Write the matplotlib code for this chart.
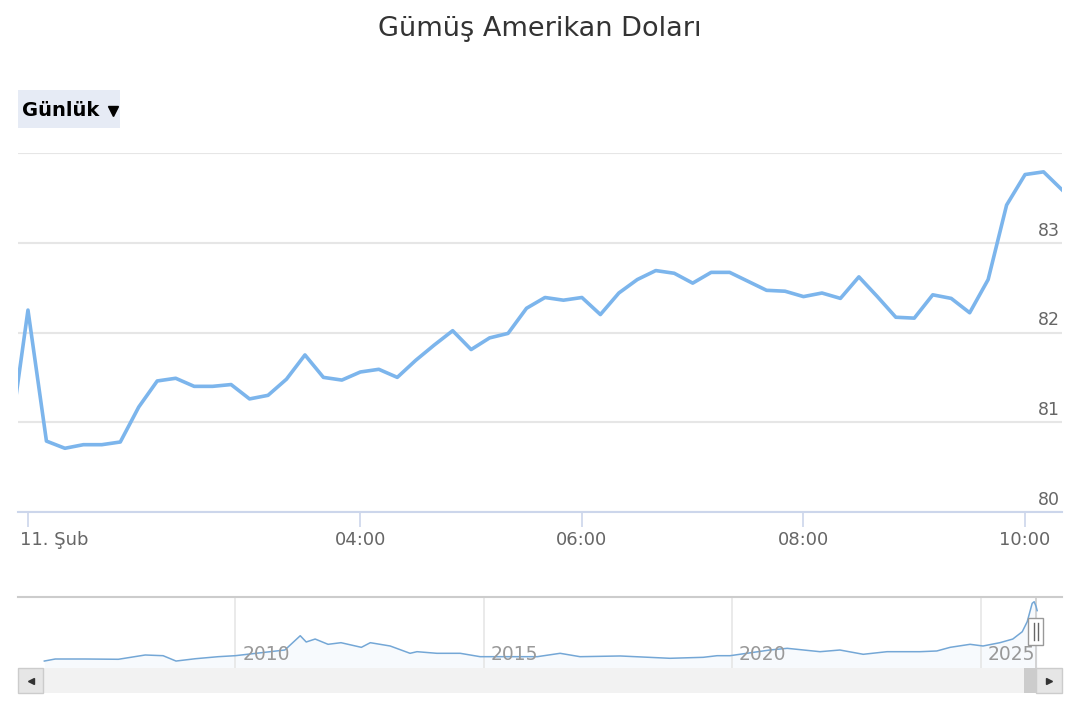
import matplotlib.pyplot as plt
from matplotlib.patches import Rectangle
from matplotlib.lines import Line2D
from matplotlib.transforms import ScaledTranslation

# intraday silver price, 10 minute steps starting 00:50 (minutes after midnight)
minutes = list(range(50, 630, 10))
silver = [80.77,
          82.25, 80.79, 80.71, 80.75, 80.75, 80.78, 81.17, 81.46, 81.49, 81.40,
          81.40, 81.42, 81.26, 81.30, 81.48, 81.75, 81.50, 81.47, 81.56, 81.59,
          81.50, 81.69, 81.86, 82.02, 81.81, 81.94, 81.99, 82.27, 82.39, 82.36,
          82.39, 82.20, 82.44, 82.59, 82.69, 82.66, 82.55, 82.67, 82.67, 82.57,
          82.47, 82.46, 82.40, 82.44, 82.38, 82.62, 82.40, 82.17, 82.16, 82.42,
          82.38, 82.22, 82.59, 83.42, 83.76, 83.79, 83.59]

tick_minutes = [60, 240, 360, 480, 600]
tick_labels = ["11. Şub", "04:00", "06:00", "08:00", "10:00"]
y_labels = [80, 81, 82, 83]

# long term history for the navigator
nav_years = [2006.16, 2006.38, 2006.98, 2007.65, 2008.19, 2008.55, 2008.81, 2009.20,
             2009.66, 2010.00, 2011.00, 2011.31, 2011.43, 2011.61, 2011.87, 2012.13,
             2012.54, 2012.72, 2013.12, 2013.52, 2013.66, 2014.06, 2014.53, 2014.93,
             2016.08, 2016.54, 2016.94, 2017.75, 2018.75, 2019.42, 2019.70, 2019.96,
             2020.76, 2021.11, 2021.77, 2022.17, 2022.64, 2023.12, 2023.78, 2024.12,
             2024.39, 2024.79, 2025.05, 2025.39, 2025.65, 2025.84, 2025.94, 2026.04,
             2026.08, 2026.12, 2026.14]
nav_prices = [11.9, 14.8, 14.8, 14.4, 20.5, 19.5, 11.9, 15.2,
              18.1, 19.5, 27.6, 47.9, 39.0, 43.2, 35.7, 38.0,
              31.4, 38.0, 33.3, 22.9, 25.2, 22.9, 22.9, 18.1,
              18.1, 22.9, 18.1, 19.1, 15.8, 17.2, 19.5, 19.5,
              27.6, 30.0, 25.2, 27.6, 21.5, 25.2, 25.2, 26.2,
              31.4, 35.7, 33.3, 38.0, 43.2, 53.6, 67.9, 94.0,
              96.3, 89.2, 83.6]
nav_ticks = [2010, 2015, 2020, 2025]

W, H = 1080, 720


def fx(px):
    return px / W


def fy(py):
    return 1 - py / H


fig = plt.figure(figsize=(10.8, 7.2), dpi=100)

fig.text(0.5, fy(29), "Gümüş Amerikan Doları", ha="center", va="center",
         fontsize=19.5, color="#333333")

# range selector button
fig.add_artist(Rectangle((fx(18), fy(128)), fx(120) - fx(18), fy(90) - fy(128),
                         transform=fig.transFigure, fc="#e6ebf5", ec="none"))
fig.text(fx(22), fy(110), "Günlük", ha="left", va="center", fontsize=14,
         fontweight="bold", color="#000000")
fig.add_artist(Line2D([fx(113)], [fy(111)], marker="v", markersize=6.5,
                      color="#000000", transform=fig.transFigure))

# main chart
ax = fig.add_axes([fx(18), fy(512), fx(1062) - fx(18), fy(153) - fy(512)])
ax.plot(minutes, silver, color="#7cb5ec", lw=2.6)
ax.set_xlim(54.6, 620)
ax.set_ylim(80, 84)
ax.set_yticks([80, 81, 82, 83, 84])
ax.yaxis.grid(True, color="#e6e6e6", lw=1.5)
ax.tick_params(axis="y", length=0, labelleft=False)
for v in y_labels:
    ax.text(1.0 - 2 / 1044, v + 3 / 89.7, str(v), transform=ax.get_yaxis_transform(),
            ha="right", va="bottom", fontsize=12.5, color="#666666")

ax.set_xticks(tick_minutes)
ax.set_xticklabels(tick_labels)
ax.tick_params(axis="x", length=10.8, width=1.2, color="#ccd6eb",
               labelsize=13, labelcolor="#666666", pad=3)
first = ax.get_xticklabels()[0]
first.set_ha("left")
first.set_transform(first.get_transform() + ScaledTranslation(-0.08, 0, fig.dpi_scale_trans))

for s in ["top", "left", "right"]:
    ax.spines[s].set_visible(False)
ax.spines["bottom"].set_color("#ccd6eb")
ax.spines["bottom"].set_linewidth(1.5)

# navigator
nav = fig.add_axes([fx(18), fy(668), fx(1062) - fx(18), fy(597) - fy(668)])
nav.plot(nav_years, nav_prices, color="#74a7d6", lw=1.1, zorder=3)
nav.fill_between(nav_years, nav_prices, 2, color="#7cb5ec", alpha=0.06, lw=0)
nav.set_xlim(2005.63, 2026.64)
nav.set_ylim(2, 103)
for yr in nav_ticks:
    nav.axvline(yr, color="#e6e6e6", lw=1.2, zorder=1)
    nav.text(yr + 7 / 49.7, 0.06, str(yr), transform=nav.get_xaxis_transform(),
             ha="left", va="bottom", fontsize=13.5, color="#999999", zorder=4)
nav.axvline(2026.12, color="#cccccc", lw=1.2, zorder=2)
nav.set_xticks([])
nav.set_yticks([])
for s in ["bottom", "left", "right"]:
    nav.spines[s].set_visible(False)
nav.spines["top"].set_color("#cccccc")
nav.spines["top"].set_linewidth(1.5)

# navigator handle
fig.add_artist(Rectangle((fx(1028), fy(645)), fx(1043) - fx(1028), fy(618) - fy(645),
                         transform=fig.transFigure, fc="white", ec="#999999", lw=1, zorder=5))
for hx in [1033.5, 1037.5]:
    fig.add_artist(Line2D([fx(hx), fx(hx)], [fy(640), fy(623)], color="#666666",
                          lw=1, transform=fig.transFigure, zorder=6))

# scrollbar
fig.add_artist(Rectangle((fx(18), fy(693)), fx(1062) - fx(18), fy(668) - fy(693),
                         transform=fig.transFigure, fc="#f2f2f2", ec="none"))
fig.add_artist(Rectangle((fx(1024), fy(693)), fx(1036) - fx(1024), fy(668) - fy(693),
                         transform=fig.transFigure, fc="#cccccc", ec="none"))
fig.add_artist(Rectangle((fx(18), fy(693)), fx(43) - fx(18), fy(668) - fy(693),
                         transform=fig.transFigure, fc="#e6e6e6", ec="#cccccc", lw=1))
fig.add_artist(Rectangle((fx(1036), fy(693)), fx(1062) - fx(1036), fy(668) - fy(693),
                         transform=fig.transFigure, fc="#e6e6e6", ec="#cccccc", lw=1))
fig.add_artist(Line2D([fx(30.5)], [fy(680.5)], marker="<", markersize=4,
                      color="#333333", transform=fig.transFigure))
fig.add_artist(Line2D([fx(1049)], [fy(680.5)], marker=">", markersize=4,
                      color="#333333", transform=fig.transFigure))

fig.savefig("out.png", dpi=100)
plt.close()
